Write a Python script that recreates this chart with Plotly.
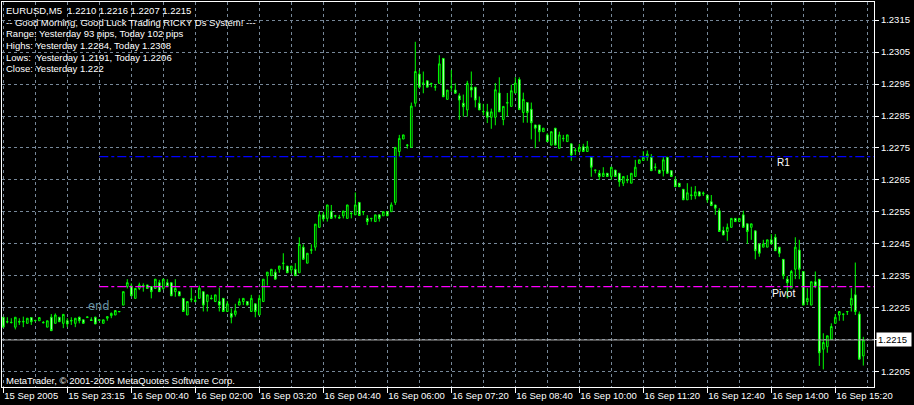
import plotly.graph_objects as go

# ---------------- data ----------------
bar_index = list(range(216))

opens = [
    1.22221, 1.22206, 1.22204, 1.22190, 1.22208, 1.22206, 1.22202, 1.22220, 1.22210, 1.22210,
    1.22205, 1.22190, 1.22221, 1.22202, 1.22221, 1.22202, 1.22210, 1.22209, 1.22202, 1.22221,
    1.22213, 1.22220, 1.22213, 1.22221, 1.22211, 1.22202, 1.22218, 1.22226, 1.22228, 1.22238,
    1.22259, 1.22317, 1.22319, 1.22280, 1.22311, 1.22320, 1.22322, 1.22317, 1.22311, 1.22329,
    1.22311, 1.22329, 1.22329, 1.22301, 1.22301, 1.22280, 1.22228, 1.22276, 1.22273, 1.22280,
    1.22301, 1.22270, 1.22281, 1.22270, 1.22270, 1.22280, 1.22239, 1.22233, 1.22230, 1.22259,
    1.22270, 1.22270, 1.22239, 1.22263, 1.22228, 1.22270, 1.22351, 1.22351, 1.22362, 1.22371,
    1.22389, 1.22381, 1.22369, 1.22371, 1.22360, 1.22440, 1.22390, 1.22430, 1.22440, 1.22502,
    1.22541, 1.22530, 1.22551, 1.22537, 1.22533, 1.22538, 1.22530, 1.22546, 1.22541, 1.22580,
    1.22550, 1.22530, 1.22529, 1.22520, 1.22541, 1.22538, 1.22551, 1.22551, 1.22580, 1.22739,
    1.22778, 1.22758, 1.22752, 1.22890, 1.22981, 1.22951, 1.22960, 1.22951, 1.22940, 1.22952,
    1.23030, 1.22902, 1.22940, 1.22931, 1.22913, 1.22890, 1.22869, 1.22940, 1.22940, 1.22890,
    1.22863, 1.22863, 1.22846, 1.22846, 1.22922, 1.22839, 1.22890, 1.22880, 1.22922, 1.22964,
    1.22861, 1.22892, 1.22871, 1.22822, 1.22822, 1.22801, 1.22791, 1.22759, 1.22812, 1.22749,
    1.22779, 1.22770, 1.22763, 1.22741, 1.22739, 1.22754, 1.22739, 1.22721, 1.22680, 1.22671,
    1.22661, 1.22671, 1.22661, 1.22681, 1.22671, 1.22640, 1.22651, 1.22640, 1.22661, 1.22702,
    1.22711, 1.22721, 1.22721, 1.22689, 1.22681, 1.22679, 1.22721, 1.22679, 1.22650, 1.22640,
    1.22621, 1.22588, 1.22601, 1.22600, 1.22613, 1.22607, 1.22603, 1.22582, 1.22572, 1.22554,
    1.22492, 1.22489, 1.22502, 1.22530, 1.22520, 1.22541, 1.22513, 1.22502, 1.22491, 1.22450,
    1.22440, 1.22440, 1.22463, 1.22471, 1.22440, 1.22402, 1.22340, 1.22312, 1.22371, 1.22431,
    1.22364, 1.22270, 1.22259, 1.22332, 1.22340, 1.22121, 1.22129, 1.22152, 1.22202, 1.22228,
    1.22230, 1.22238, 1.22259, 1.22291, 1.22231, 1.22100,
]

highs = [
    1.22221, 1.22221, 1.22218, 1.22221, 1.22218, 1.22223, 1.22218, 1.22220, 1.22213, 1.22220,
    1.22209, 1.22210, 1.22231, 1.22233, 1.22221, 1.22230, 1.22218, 1.22221, 1.22218, 1.22223,
    1.22213, 1.22222, 1.22221, 1.22223, 1.22214, 1.22213, 1.22223, 1.22236, 1.22242, 1.22240,
    1.22301, 1.22340, 1.22327, 1.22311, 1.22329, 1.22327, 1.22322, 1.22317, 1.22340, 1.22338,
    1.22340, 1.22340, 1.22329, 1.22340, 1.22301, 1.22280, 1.22270, 1.22314, 1.22288, 1.22320,
    1.22301, 1.22291, 1.22291, 1.22291, 1.22314, 1.22280, 1.22272, 1.22249, 1.22263, 1.22280,
    1.22280, 1.22270, 1.22291, 1.22263, 1.22291, 1.22340, 1.22362, 1.22371, 1.22371, 1.22381,
    1.22421, 1.22381, 1.22381, 1.22390, 1.22471, 1.22449, 1.22421, 1.22449, 1.22512, 1.22553,
    1.22551, 1.22572, 1.22572, 1.22541, 1.22541, 1.22553, 1.22572, 1.22551, 1.22611, 1.22580,
    1.22551, 1.22540, 1.22530, 1.22541, 1.22541, 1.22551, 1.22551, 1.22580, 1.22752, 1.22791,
    1.22791, 1.22762, 1.22892, 1.23082, 1.22994, 1.22989, 1.22960, 1.22952, 1.22950, 1.23040,
    1.23030, 1.22931, 1.22994, 1.22952, 1.22921, 1.22917, 1.22960, 1.22989, 1.22940, 1.22911,
    1.22888, 1.22888, 1.22873, 1.22953, 1.22971, 1.22880, 1.22922, 1.22948, 1.22971, 1.22971,
    1.22923, 1.22892, 1.22892, 1.22822, 1.22822, 1.22812, 1.22796, 1.22801, 1.22812, 1.22801,
    1.22791, 1.22791, 1.22763, 1.22750, 1.22763, 1.22763, 1.22772, 1.22721, 1.22681, 1.22681,
    1.22690, 1.22671, 1.22690, 1.22681, 1.22671, 1.22661, 1.22665, 1.22671, 1.22713, 1.22713,
    1.22740, 1.22742, 1.22731, 1.22702, 1.22681, 1.22723, 1.22721, 1.22679, 1.22661, 1.22640,
    1.22621, 1.22640, 1.22629, 1.22631, 1.22613, 1.22614, 1.22603, 1.22603, 1.22572, 1.22562,
    1.22504, 1.22514, 1.22530, 1.22530, 1.22530, 1.22554, 1.22513, 1.22513, 1.22491, 1.22450,
    1.22463, 1.22463, 1.22481, 1.22481, 1.22440, 1.22402, 1.22350, 1.22369, 1.22471, 1.22463,
    1.22364, 1.22312, 1.22332, 1.22364, 1.22340, 1.22171, 1.22163, 1.22202, 1.22231, 1.22239,
    1.22231, 1.22239, 1.22312, 1.22392, 1.22239, 1.22160,
]

lows = [
    1.22190, 1.22202, 1.22202, 1.22183, 1.22197, 1.22190, 1.22202, 1.22197, 1.22208, 1.22210,
    1.22202, 1.22190, 1.22179, 1.22202, 1.22207, 1.22187, 1.22190, 1.22197, 1.22190, 1.22202,
    1.22202, 1.22220, 1.22210, 1.22200, 1.22210, 1.22202, 1.22210, 1.22218, 1.22228, 1.22237,
    1.22259, 1.22311, 1.22288, 1.22280, 1.22306, 1.22301, 1.22311, 1.22280, 1.22311, 1.22301,
    1.22306, 1.22317, 1.22288, 1.22285, 1.22288, 1.22239, 1.22228, 1.22268, 1.22268, 1.22280,
    1.22239, 1.22239, 1.22277, 1.22270, 1.22239, 1.22239, 1.22239, 1.22202, 1.22223, 1.22259,
    1.22259, 1.22259, 1.22239, 1.22221, 1.22228, 1.22270, 1.22320, 1.22351, 1.22340, 1.22360,
    1.22369, 1.22360, 1.22358, 1.22351, 1.22360, 1.22402, 1.22390, 1.22419, 1.22429, 1.22502,
    1.22520, 1.22520, 1.22530, 1.22530, 1.22530, 1.22530, 1.22530, 1.22530, 1.22541, 1.22539,
    1.22540, 1.22509, 1.22520, 1.22520, 1.22520, 1.22538, 1.22538, 1.22551, 1.22572, 1.22723,
    1.22778, 1.22748, 1.22752, 1.22879, 1.22940, 1.22921, 1.22940, 1.22940, 1.22929, 1.22952,
    1.22910, 1.22902, 1.22926, 1.22921, 1.22838, 1.22848, 1.22848, 1.22908, 1.22877, 1.22869,
    1.22852, 1.22828, 1.22810, 1.22821, 1.22863, 1.22821, 1.22849, 1.22880, 1.22922, 1.22870,
    1.22829, 1.22829, 1.22777, 1.22749, 1.22770, 1.22801, 1.22770, 1.22759, 1.22759, 1.22749,
    1.22770, 1.22770, 1.22710, 1.22728, 1.22739, 1.22739, 1.22739, 1.22660, 1.22671, 1.22650,
    1.22661, 1.22661, 1.22650, 1.22661, 1.22629, 1.22631, 1.22640, 1.22640, 1.22661, 1.22702,
    1.22711, 1.22710, 1.22679, 1.22679, 1.22671, 1.22661, 1.22671, 1.22661, 1.22629, 1.22629,
    1.22588, 1.22588, 1.22588, 1.22590, 1.22600, 1.22600, 1.22579, 1.22570, 1.22541, 1.22489,
    1.22478, 1.22460, 1.22502, 1.22520, 1.22520, 1.22502, 1.22450, 1.22463, 1.22402, 1.22410,
    1.22440, 1.22440, 1.22450, 1.22429, 1.22409, 1.22340, 1.22280, 1.22312, 1.22340, 1.22340,
    1.22259, 1.22259, 1.22259, 1.22312, 1.22069, 1.22058, 1.22110, 1.22152, 1.22202, 1.22210,
    1.22210, 1.22228, 1.22239, 1.22228, 1.22090, 1.22070,
]

closes = [
    1.22190, 1.22207, 1.22205, 1.22221, 1.22206, 1.22208, 1.22218, 1.22207, 1.22211, 1.22220,
    1.22204, 1.22210, 1.22179, 1.22228, 1.22207, 1.22230, 1.22200, 1.22211, 1.22218, 1.22210,
    1.22202, 1.22222, 1.22211, 1.22200, 1.22213, 1.22213, 1.22223, 1.22233, 1.22242, 1.22239,
    1.22301, 1.22329, 1.22288, 1.22311, 1.22322, 1.22318, 1.22311, 1.22301, 1.22340, 1.22301,
    1.22340, 1.22317, 1.22288, 1.22311, 1.22288, 1.22239, 1.22270, 1.22278, 1.22271, 1.22312,
    1.22259, 1.22291, 1.22279, 1.22291, 1.22259, 1.22239, 1.22263, 1.22221, 1.22241, 1.22270,
    1.22280, 1.22259, 1.22280, 1.22239, 1.22280, 1.22340, 1.22362, 1.22371, 1.22340, 1.22381,
    1.22390, 1.22360, 1.22381, 1.22351, 1.22449, 1.22402, 1.22421, 1.22432, 1.22512, 1.22541,
    1.22528, 1.22572, 1.22530, 1.22538, 1.22531, 1.22553, 1.22572, 1.22545, 1.22572, 1.22539,
    1.22551, 1.22520, 1.22530, 1.22541, 1.22530, 1.22551, 1.22538, 1.22572, 1.22752, 1.22780,
    1.22791, 1.22759, 1.22881, 1.22989, 1.22940, 1.22953, 1.22940, 1.22952, 1.22941, 1.23013,
    1.22910, 1.22931, 1.22941, 1.22921, 1.22900, 1.22879, 1.22952, 1.22931, 1.22900, 1.22869,
    1.22864, 1.22846, 1.22863, 1.22932, 1.22863, 1.22880, 1.22892, 1.22929, 1.22953, 1.22870,
    1.22902, 1.22861, 1.22829, 1.22812, 1.22801, 1.22812, 1.22770, 1.22801, 1.22759, 1.22791,
    1.22780, 1.22791, 1.22728, 1.22743, 1.22752, 1.22739, 1.22754, 1.22690, 1.22681, 1.22661,
    1.22671, 1.22661, 1.22690, 1.22661, 1.22645, 1.22661, 1.22649, 1.22671, 1.22690, 1.22713,
    1.22721, 1.22731, 1.22679, 1.22690, 1.22671, 1.22713, 1.22671, 1.22661, 1.22629, 1.22629,
    1.22588, 1.22610, 1.22603, 1.22613, 1.22600, 1.22609, 1.22588, 1.22570, 1.22562, 1.22489,
    1.22478, 1.22502, 1.22530, 1.22520, 1.22530, 1.22502, 1.22489, 1.22513, 1.22429, 1.22421,
    1.22450, 1.22463, 1.22450, 1.22429, 1.22421, 1.22351, 1.22329, 1.22364, 1.22440, 1.22371,
    1.22259, 1.22280, 1.22332, 1.22319, 1.22110, 1.22142, 1.22163, 1.22192, 1.22221, 1.22239,
    1.22231, 1.22239, 1.22280, 1.22239, 1.22090, 1.22150,
]

tick_bars = [0, 16, 32, 48, 64, 80, 96, 112, 128, 144, 160, 176, 192, 208]
tick_labels = ["15 Sep 2005", "15 Sep 23:15", "16 Sep 00:40", "16 Sep 02:00",
               "16 Sep 03:20", "16 Sep 04:40", "16 Sep 06:00", "16 Sep 07:20",
               "16 Sep 08:40", "16 Sep 10:00", "16 Sep 11:20", "16 Sep 12:40",
               "16 Sep 14:00", "16 Sep 15:20"]
grid_bars = list(range(8, 217, 16))
price_ticks = [1.2205, 1.2215, 1.2225, 1.2235, 1.2245, 1.2255, 1.2265,
               1.2275, 1.2285, 1.2295, 1.2305, 1.2315]

yesterday_high = 1.2284
yesterday_low = 1.2191
yesterday_close = 1.2220
today_start_bar = 24
end_marker_bar = 24
end_marker_price = 1.22256
level_label_bar = 195

header_lines = [
    "EURUSD,M5  1.2210 1.2216 1.2207 1.2215",
    "-- Good Morning, Good Luck Trading RICKY Ds System! ---",
    "Range: Yesterday 93 pips, Today 102 pips",
    "Highs: Yesterday 1.2284, Today 1.2308",
    "Lows:  Yesterday 1.2191, Today 1.2206",
    "Close: Yesterday 1.222",
]
copyright_text = "MetaTrader, © 2001-2005 MetaQuotes Software Corp."

# ---------------- derived levels ----------------
pivot = (yesterday_high + yesterday_low + yesterday_close) / 3
r1 = 2 * pivot - yesterday_low
last_price = closes[-1]
last_label = f"{last_price:.4f}"
# the current-price box replaces the axis label at the same level
price_tick_text = ["" if f"{p:.4f}" == last_label else f"{p:.4f}" for p in price_ticks]

# ---------------- layout constants ----------------
W, H = 914, 405
ML, MR, MT, MB = 2, 40, 2, 18
PW, PH = W - ML - MR, H - MT - MB
FONT = "Liberation Sans"
GRID = "#778899"
LIME = "#00FF00"


def px_x(px):
    return (px - ML) / PW


def px_y(py):
    return 1 - (py - MT) / PH


fig = go.Figure()

line_end = bar_index[-1] + 10
fig.add_trace(go.Scatter(x=[today_start_bar, line_end], y=[r1, r1], mode="lines",
                         line=dict(color="#0000FF", width=1.3, dash="dashdot"),
                         hoverinfo="skip", showlegend=False))
fig.add_trace(go.Scatter(x=[today_start_bar, line_end], y=[pivot, pivot], mode="lines",
                         line=dict(color="#FF00FF", width=1.3, dash="dashdot"),
                         hoverinfo="skip", showlegend=False))

fig.add_trace(go.Candlestick(
    x=bar_index, open=opens, high=highs, low=lows, close=closes,
    increasing=dict(line=dict(color=LIME, width=1), fillcolor="#000000"),
    decreasing=dict(line=dict(color=LIME, width=1), fillcolor="#FFFFFF"),
    whiskerwidth=0, showlegend=False, hoverinfo="skip",
))

# current price line
fig.add_shape(type="line", xref="paper", x0=0, x1=1, yref="y", y0=last_price, y1=last_price,
              line=dict(color="#A8A8A8", width=1), layer="above")

annotations = []
for i, t in enumerate(header_lines):
    annotations.append(dict(xref="paper", yref="paper", x=px_x(4), y=px_y(10.5 + 11.7 * i),
                            xanchor="left", yanchor="middle", text=t, showarrow=False,
                            font=dict(family=FONT, size=9.5, color="white")))
annotations.append(dict(xref="paper", yref="paper", x=px_x(4), y=px_y(380),
                        xanchor="left", yanchor="middle", text=copyright_text, showarrow=False,
                        font=dict(family=FONT, size=9.5, color="white")))
annotations.append(dict(x=end_marker_bar, y=end_marker_price, text="end", showarrow=False,
                        xanchor="center", yanchor="middle",
                        font=dict(family="DejaVu Sans", size=11.5, color="#6590A2")))
annotations.append(dict(x=level_label_bar, y=r1, text="R1", showarrow=False,
                        xanchor="center", yanchor="middle", yshift=-6,
                        font=dict(family=FONT, size=10, color="white")))
annotations.append(dict(x=level_label_bar, y=pivot, text="Pivot", showarrow=False,
                        xanchor="center", yanchor="middle", yshift=-6,
                        font=dict(family=FONT, size=10.5, color="white")))
annotations.append(dict(xref="paper", x=1, xanchor="left", xshift=2, y=last_price, yref="y",
                        yanchor="middle", text=last_label + " ", showarrow=False,
                        bgcolor="white", borderpad=1,
                        font=dict(family=FONT, size=9.5, color="black")))

fig.update_layout(
    width=W, height=H, autosize=False,
    margin=dict(l=ML, r=MR, t=MT, b=MB, pad=0, autoexpand=False),
    paper_bgcolor="black", plot_bgcolor="black",
    showlegend=False,
    boxgap=0.4,
    annotations=annotations,
    font=dict(family=FONT, size=9.5, color="white"),
    xaxis=dict(
        range=[-0.325, 217.675], rangeslider=dict(visible=False),
        tickmode="array", tickvals=tick_bars, ticktext=tick_labels,
        tickangle=0, automargin=False,
        ticks="outside", ticklen=5, tickcolor="white", tickwidth=1,
        ticklabelposition="outside right",
        tickfont=dict(family=FONT, size=9.5, color="white"),
        showline=True, linecolor="white", linewidth=1, mirror=True,
        showgrid=True, gridcolor=GRID, gridwidth=1, griddash="3px,3px",
        minor=dict(tickmode="array", tickvals=grid_bars, showgrid=True,
                   gridcolor=GRID, gridwidth=1, griddash="3px,3px", ticks=""),
        zeroline=False, fixedrange=True,
    ),
    yaxis=dict(
        side="right", range=[1.22003, 1.232063], automargin=False,
        tickmode="array", tickvals=price_ticks, ticktext=price_tick_text,
        ticks="outside", ticklen=4, tickcolor="white", tickwidth=1,
        tickfont=dict(family=FONT, size=9.5, color="white"),
        showline=True, linecolor="white", linewidth=1, mirror=True,
        showgrid=True, gridcolor=GRID, gridwidth=1, griddash="3px,3px",
        zeroline=False, fixedrange=True,
    ),
)

fig.write_html("out.html", config=dict(displayModeBar=False),
               post_script="document.body.style.margin='0';document.body.style.overflow='hidden';")
